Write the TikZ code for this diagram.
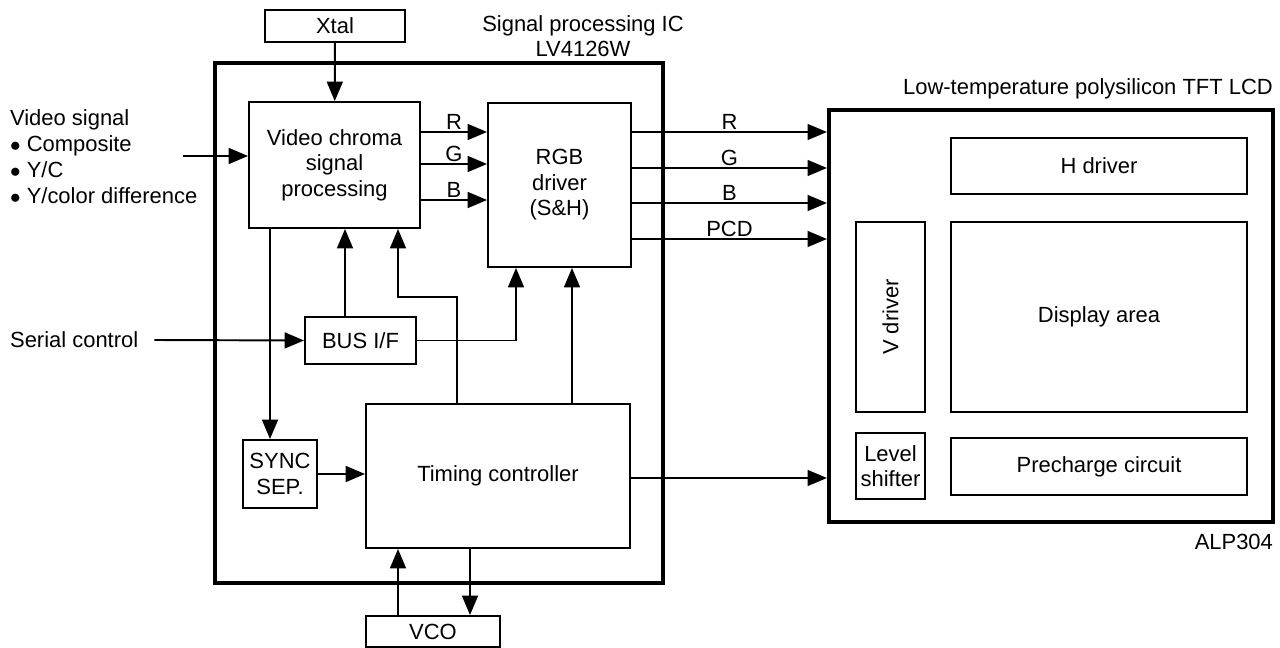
\documentclass[tikz,border=0pt]{standalone}
\usepackage{fontspec}
\setmainfont{Liberation Sans}
\usetikzlibrary{arrows.meta}

\begin{document}
\begin{tikzpicture}[x=0.02cm, y=-0.02cm,
  blk/.style={draw, line width=1.1pt, inner sep=1pt, align=center,
              font=\fontsize{12.5}{14.5}\selectfont},
  frame/.style={draw, line width=2.4pt, inner sep=0pt},
  lbl/.style={inner sep=1pt, align=center, font=\fontsize{12.5}{14.5}\selectfont},
  arr/.style={line width=1.1pt, -{Triangle[length=11pt, width=9pt]}}
]
  \useasboundingbox (0,0) rectangle (1280,648);

  % outer frames
  \node[frame, minimum width=8.96cm, minimum height=10.4cm] (ic)  at (439,323)  {};
  \node[frame, minimum width=8.88cm, minimum height=8.24cm] (lcd) at (1051,316) {};
  \node[lbl] (ictitle) at (583,36) {Signal processing IC\\LV4126W};
  \node[lbl, anchor=east] (lcdtitle) at (1275,89) {Low-temperature polysilicon TFT LCD};
  \node[lbl, anchor=east] (alp) at (1275,542) {ALP304};

  % signal processing IC
  \node[blk, minimum width=2.8cm,  minimum height=0.64cm] (xtal)   at (335,26)      {Xtal};
  \node[blk, minimum width=3.42cm, minimum height=2.52cm] (chroma) at (334.5,165)   {Video chroma\\signal\\processing};
  \node[blk, minimum width=2.86cm, minimum height=3.28cm] (rgb)    at (559.5,185)   {RGB\\driver\\(S\&H)};
  \node[blk, minimum width=2.22cm, minimum height=0.94cm] (bus)    at (360.5,340.5) {BUS I/F};
  \node[blk, minimum width=1.48cm, minimum height=1.36cm] (sync)   at (280,474)     {SYNC\\SEP.};
  \node[blk, minimum width=5.28cm, minimum height=2.88cm] (timing) at (498,476)     {Timing controller};
  \node[blk, minimum width=2.68cm, minimum height=0.62cm] (vco)    at (433,631.5)   {VCO};

  % LCD panel
  \node[blk, minimum width=5.92cm, minimum height=1.12cm] (hdrv)  at (1099,166)   {H driver};
  \node[blk, minimum width=5.92cm, minimum height=3.8cm]  (disp)  at (1099,317)   {Display area};
  \node[blk, rotate=90, minimum width=3.8cm, minimum height=1.38cm] (vdrv) at (890.5,317) {V driver};
  \node[blk, minimum width=1.38cm, minimum height=1.32cm] (lvl)   at (890.5,466)  {Level\\shifter};
  \node[blk, minimum width=5.92cm, minimum height=1.14cm] (prech) at (1099,466.5) {Precharge circuit};

  % inputs
  \node[lbl, anchor=west, align=left, font=\fontsize{12.5}{14.8}\selectfont] (vsig) at (8,157)
    {Video signal\\$\bullet$ Composite\\$\bullet$ Y/C\\$\bullet$ Y/color difference};
  \node[lbl, anchor=west] (serial) at (8,340) {Serial control};

  % helper coordinates
  \coordinate (vin)  at (183,156);
  \coordinate (yr)   at (0,132);
  \coordinate (yg)   at (0,164);
  \coordinate (yb)   at (0,200);
  \coordinate (or)   at (0,132);
  \coordinate (og)   at (0,168);
  \coordinate (ob)   at (0,203);
  \coordinate (op)   at (0,239);
  \coordinate (sx)   at (270,0);
  \coordinate (bx)   at (345,0);
  \coordinate (brx)  at (516,0);
  \coordinate (tca)  at (457,0);
  \coordinate (tcb)  at (398,297);
  \coordinate (trx)  at (572,0);
  \coordinate (va)   at (398,0);
  \coordinate (vb)   at (470,0);
  \coordinate (ly)   at (0,478);

  % connectors
  \draw[arr] (xtal) -- (chroma);
  \draw[arr] (vin) -- (chroma.west |- vin);
  \draw[arr] ([xshift=8pt]serial.east) -- (bus.west);
  \draw[arr] (chroma.east |- yr) -- node[lbl, above] {R} (rgb.west |- yr);
  \draw[arr] (chroma.east |- yg) -- node[lbl, above] {G} (rgb.west |- yg);
  \draw[arr] (chroma.east |- yb) -- node[lbl, above] {B} (rgb.west |- yb);
  \draw[arr] (rgb.east |- or) -- node[lbl, above] {R}   (lcd.west |- or);
  \draw[arr] (rgb.east |- og) -- node[lbl, above] {G}   (lcd.west |- og);
  \draw[arr] (rgb.east |- ob) -- node[lbl, above] {B}   (lcd.west |- ob);
  \draw[arr] (rgb.east |- op) -- node[lbl, above] {PCD} (lcd.west |- op);
  \draw[arr] (bus.north -| bx) -- (chroma.south -| bx);
  \draw[arr] (bus.east) -| (rgb.south -| brx);
  \draw[arr] (chroma.south -| sx) -- (sync.north -| sx);
  \draw[arr] (sync.east) -- (timing.west |- sync.east);
  \draw[arr] (timing.north -| tca) |- (tcb) -- (chroma.south -| tcb);
  \draw[arr] (timing.north -| trx) -- (rgb.south -| trx);
  \draw[arr] (vco.north -| va) -- (timing.south -| va);
  \draw[arr] (timing.south -| vb) -- (vco.north -| vb);
  \draw[arr] (timing.east |- ly) -- (lcd.west |- ly);
\end{tikzpicture}
\end{document}
